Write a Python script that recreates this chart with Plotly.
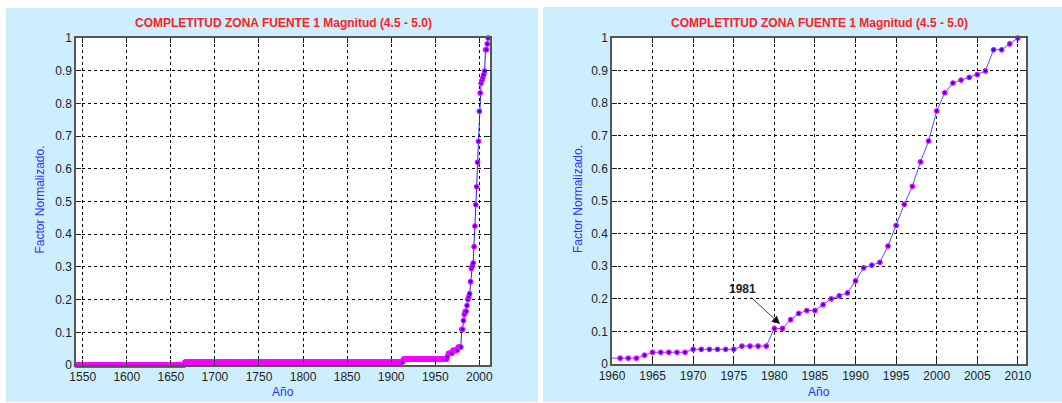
import plotly.graph_objects as go

W, H = 1062, 403

early_runs = [(1542, 1665, 0.000), (1666, 1913, 0.009), (1914, 1959, 0.018)]

# Yearly values 1960-2010
recent_years = list(range(1960, 2011))
recent_values = [0.018, 0.018, 0.018, 0.018, 0.027,
                 0.036, 0.036, 0.036, 0.036, 0.036,
                 0.045, 0.045, 0.045, 0.045, 0.045, 0.045,
                 0.055, 0.055, 0.055, 0.055,
                 0.109, 0.109, 0.136, 0.155, 0.164, 0.164, 0.182, 0.200, 0.209, 0.218,
                 0.255, 0.295, 0.303, 0.312, 0.362, 0.425, 0.490, 0.545, 0.620, 0.684,
                 0.776, 0.832, 0.862, 0.871, 0.879, 0.888, 0.899, 0.964, 0.964, 0.982, 1.000]

left_ticks = [1550, 1600, 1650, 1700, 1750, 1800, 1850, 1900, 1950, 2000]
right_ticks = [1960, 1965, 1970, 1975, 1980, 1985, 1990, 1995, 2000, 2005, 2010]
y_ticks = [0, 0.1, 0.2, 0.3, 0.4, 0.5, 0.6, 0.7, 0.8, 0.9, 1]

title_text = "COMPLETITUD ZONA FUENTE 1 Magnitud (4.5 - 5.0)"
x_title = "Año"
y_title = "Factor Normalizado."
note_text = "1981"

# full yearly series
all_years, all_values = [], []
for a, b, v in early_runs:
    for yr in range(a, b + 1):
        all_years.append(yr)
        all_values.append(v)
all_years += recent_years
all_values += recent_values

FONT = "Liberation Sans, Arial, sans-serif"
PANEL = "#CCEEFF"
LINE = "#2020FF"
MARK_FILL = "#1010FF"
MARK_EDGE = "#FF00FF"


def px(x):
    return x / W


def py(y):
    return 1 - y / H


fig = go.Figure()

fig.add_trace(go.Scatter(
    x=all_years, y=all_values, mode="lines+markers", xaxis="x", yaxis="y",
    line=dict(color=LINE, width=1),
    marker=dict(size=4.5, color=MARK_FILL, line=dict(color=MARK_EDGE, width=1.2)),
    cliponaxis=False, showlegend=False, hoverinfo="x+y"))

fig.add_trace(go.Scatter(
    x=all_years, y=all_values, mode="lines", xaxis="x2", yaxis="y2",
    line=dict(color="#5050FF", width=1), showlegend=False, hoverinfo="skip"))
mx = [x for x in recent_years if x > 1960]
my = [v for x, v in zip(recent_years, recent_values) if x > 1960]
fig.add_trace(go.Scatter(
    x=mx, y=my, mode="markers", xaxis="x2", yaxis="y2",
    marker=dict(size=4.5, color=MARK_FILL, line=dict(color=MARK_EDGE, width=1.2)),
    cliponaxis=False, showlegend=False))

# axes geometry (pixels)
L = dict(x0=76, x1=490, y0=38, y1=365)
R = dict(x0=612, x1=1026, y0=38, y1=364)

common_axis = dict(
    showline=True, linecolor="#555555", linewidth=1.5, mirror="allticks",
    ticks="inside", ticklen=5, tickcolor="#222222", tickwidth=1,
    showgrid=True, gridcolor="#000000", gridwidth=1, griddash="3px,3px",
    zeroline=False, tickfont=dict(family=FONT, size=12, color="#1e1e1e"),
    fixedrange=True, automargin=False,
)

fig.update_layout(
    template="none",
    width=W, height=H, margin=dict(l=0, r=0, t=0, b=0, pad=0, autoexpand=False),
    paper_bgcolor="white", plot_bgcolor="rgba(0,0,0,0)", showlegend=False,
    xaxis=dict(domain=[px(L["x0"]), px(L["x1"])], range=[1542.4, 2012.1],
               tickvals=left_ticks, anchor="y", **common_axis),
    yaxis=dict(domain=[py(L["y1"]), py(L["y0"])], range=[0, 1],
               tickvals=y_ticks, anchor="x", **common_axis),
    xaxis2=dict(domain=[px(R["x0"]), px(R["x1"])], range=[1960, 2011],
                tickvals=right_ticks, anchor="y2", **common_axis),
    yaxis2=dict(domain=[py(R["y1"]), py(R["y0"])], range=[0, 1],
                tickvals=y_ticks, anchor="x2", **common_axis),
    shapes=[
        dict(type="rect", xref="paper", yref="paper", layer="below",
             x0=px(6), x1=px(538), y0=py(402), y1=py(8),
             fillcolor=PANEL, line=dict(width=0)),
        dict(type="rect", xref="paper", yref="paper", layer="below",
             x0=px(543), x1=px(1062), y0=py(402), y1=py(7),
             fillcolor=PANEL, line=dict(width=0)),
        dict(type="rect", xref="paper", yref="paper", layer="below",
             x0=px(L["x0"]), x1=px(L["x1"]), y0=py(L["y1"]), y1=py(L["y0"]),
             fillcolor="white", line=dict(width=0)),
        dict(type="rect", xref="paper", yref="paper", layer="below",
             x0=px(R["x0"]), x1=px(R["x1"]), y0=py(R["y1"]), y1=py(R["y0"]),
             fillcolor="white", line=dict(width=0)),
    ],
)

ann = []
for P, ycx in ((L, 40), (R, 578)):
    cx = (P["x0"] + P["x1"]) / 2
    ann.append(dict(text="<b>" + title_text + "</b>", xref="paper", yref="paper",
                    x=px(cx), y=py(23), xanchor="center", yanchor="middle",
                    showarrow=False, font=dict(family=FONT, size=12, color="#FF2020")))
    ann.append(dict(text=x_title, xref="paper", yref="paper",
                    x=px(cx), y=py(392), xanchor="center", yanchor="middle",
                    showarrow=False, font=dict(family=FONT, size=12, color="#3030FF")))
    ann.append(dict(text=y_title, xref="paper", yref="paper", textangle=-90,
                    x=px(ycx), y=py((P["y0"] + P["y1"]) / 2 - 2), xanchor="center", yanchor="middle",
                    showarrow=False, font=dict(family=FONT, size=12, color="#3030FF")))

ann.append(dict(text="<b>" + note_text + "</b>", xref="paper", yref="paper",
                x=px(780), y=py(324), ax=-38, ay=-35, showarrow=True,
                arrowhead=2, arrowsize=2, arrowwidth=0.8, arrowcolor="#111111",
                font=dict(family=FONT, size=12, color="#222222")))

fig.update_layout(annotations=ann)

fig.write_html(
    "out.html",
    config={"responsive": False, "displayModeBar": False},
    post_script=("document.body.style.margin='0';document.body.style.overflow='hidden';"),
)
